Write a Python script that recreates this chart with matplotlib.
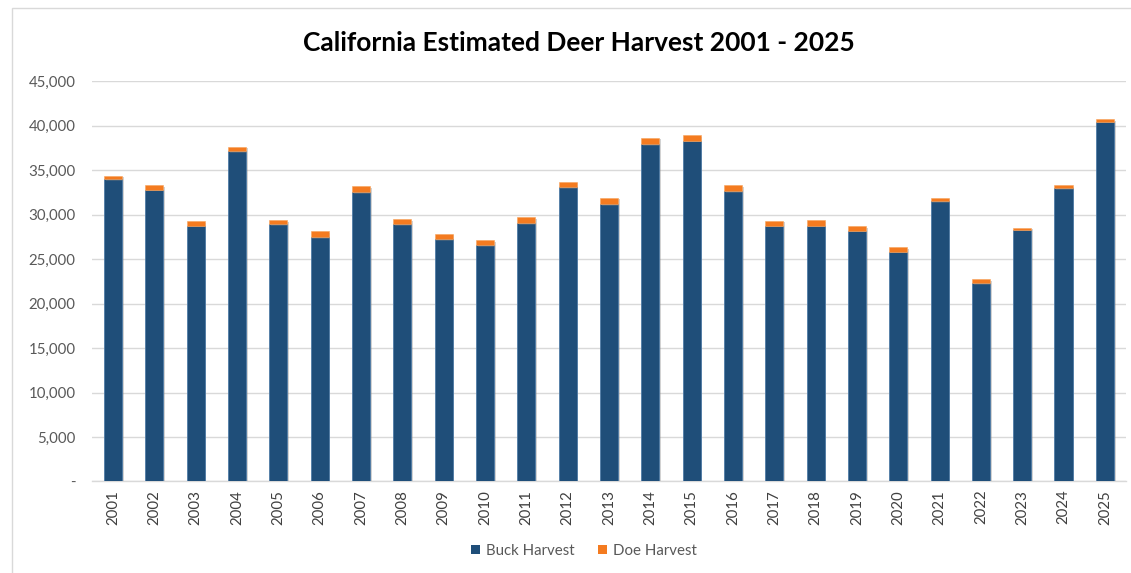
import matplotlib
matplotlib.use("Agg")
import matplotlib.pyplot as plt
import matplotlib.patheffects as pe
from matplotlib.patches import Rectangle
from matplotlib.ticker import FuncFormatter

years = [str(y) for y in range(2001, 2026)]
buck_harvest = [34000, 32800, 28750, 37150, 28950, 27500, 32500, 28900, 27250, 26550,
                29050, 33050, 31200, 37950, 38300, 32600, 28750, 28750, 28200, 25850,
                31500, 22300, 28300, 33000, 40450]
doe_harvest = [380, 500, 500, 490, 450, 650, 700, 600, 600, 600,
               650, 650, 700, 700, 650, 700, 570, 660, 520, 480,
               400, 470, 230, 300, 300]

buck_color = "#1F4E79"
doe_color = "#F47B20"
text_gray = "#595959"
grid_gray = "#D9D9D9"

plt.rcParams["font.family"] = ["Lato", "DejaVu Sans"]

fig = plt.figure(figsize=(11.31, 5.73), dpi=100)
ax = fig.add_axes([0.0817, 0.1597, 0.9135, 0.6986])

# chart area border
fig.patches.append(Rectangle((12 / 1131, -0.01), 1.2, 1 - 8 / 573 + 0.01,
                             transform=fig.transFigure, fill=False,
                             edgecolor=grid_gray, linewidth=1.0, zorder=0))

x = range(len(years))
shadow = [pe.SimplePatchShadow(offset=(1.2, -1.2), shadow_rgbFace="#808080", alpha=0.35), pe.Normal()]
b1 = ax.bar(x, buck_harvest, width=0.44, color=buck_color, edgecolor="#4F7BA6",
            linewidth=0.6, label="Buck Harvest", zorder=3)
b2 = ax.bar(x, doe_harvest, width=0.44, bottom=buck_harvest, color=doe_color,
            edgecolor="#F7A35C", linewidth=0.4, label="Doe Harvest", zorder=3)
for r in list(b1) + list(b2):
    r.set_path_effects(shadow)

ax.set_xlim(-0.5, len(years) - 0.5)
ax.set_ylim(0, 45000)
ax.set_yticks(range(0, 45001, 5000))
ax.yaxis.set_major_formatter(FuncFormatter(lambda v, p: "-" if v == 0 else f"{int(v):,}"))
ax.set_xticks(list(x))
ax.set_xticklabels(years, rotation=90)

ax.grid(axis="y", color=grid_gray, linewidth=1.0, zorder=0)
ax.set_axisbelow(True)
for side in ["top", "right", "left"]:
    ax.spines[side].set_visible(False)
ax.spines["bottom"].set_color(grid_gray)
ax.spines["bottom"].set_linewidth(1.0)

ax.tick_params(axis="y", length=0, pad=12, labelsize=10.8, labelcolor=text_gray)
ax.tick_params(axis="x", length=0, pad=6, labelsize=10.8, labelcolor="#404040")

fig.text(579 / 1131, 1 - 43 / 573, "California Estimated Deer Harvest 2001 - 2025",
         ha="center", va="center", fontsize=19, fontweight="bold", color="black")

leg = fig.legend(handles=[b1, b2], labels=["Buck Harvest", "Doe Harvest"],
                 loc="center", bbox_to_anchor=(584 / 1131, 1 - 551 / 573), ncol=2,
                 frameon=False, fontsize=10.8, handlelength=0.6, handleheight=0.6,
                 handletextpad=0.4, columnspacing=1.6)
for t in leg.get_texts():
    t.set_color(text_gray)
for h in leg.legend_handles:
    h.set_path_effects([])
    h.set_linewidth(0)

fig.savefig("out.png", dpi=100)
